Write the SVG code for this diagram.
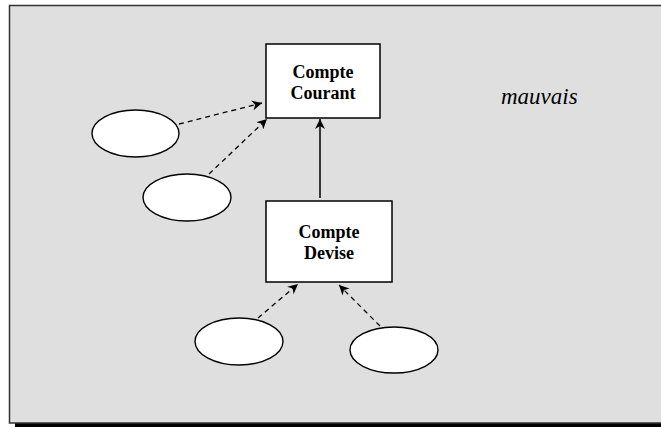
<svg xmlns="http://www.w3.org/2000/svg" width="661" height="427" viewBox="0 0 661 427">
  <style>
    .box { fill: #ffffff; stroke: #000000; stroke-width: 1.5; }
    .oval { fill: #ffffff; stroke: #000000; stroke-width: 1.4; }
    .lbl { font-family: "Liberation Serif", "Times New Roman", serif; font-weight: bold; font-size: 18px; text-anchor: middle; fill: #000; }
    .note { font-family: "Liberation Serif", "Times New Roman", serif; font-style: italic; font-size: 23px; fill: #000; }
    .dep { stroke: #000; stroke-width: 1.3; stroke-dasharray: 5 4; fill: none; }
    .gen { stroke: #000; stroke-width: 1.5; fill: none; }
  </style>
  <defs>
    <marker id="head" viewBox="0 0 10 10" refX="10" refY="5" markerWidth="10" markerHeight="10" markerUnits="userSpaceOnUse" orient="auto">
      <path d="M0,0 L10,5 L0,10 L3,5 Z" fill="#000"/>
    </marker>
  </defs>

  <!-- page frame with drop shadow -->
  <rect x="15" y="423" width="646" height="4" fill="#000"/>
  <rect x="9.5" y="5.5" width="660" height="417.5" fill="#dfdfdf" stroke="#333" stroke-width="1.5"/>

  <g id="connectors">
    <line class="dep" x1="179" y1="124" x2="262" y2="103" marker-end="url(#head)"/>
    <line class="dep" x1="209" y1="174" x2="267" y2="119" marker-end="url(#head)"/>
    <line class="gen" x1="320" y1="198" x2="320" y2="119" marker-end="url(#head)"/>
    <line class="dep" x1="258" y1="318" x2="298" y2="284" marker-end="url(#head)"/>
    <line class="dep" x1="380" y1="326" x2="339" y2="285" marker-end="url(#head)"/>
  </g>

  <g id="compte-courant">
    <rect class="box" x="266" y="44" width="114" height="74"/>
    <text class="lbl" x="323" y="78">Compte</text>
    <text class="lbl" x="323" y="99">Courant</text>
  </g>

  <g id="compte-devise">
    <rect class="box" x="266" y="201" width="126" height="81"/>
    <text class="lbl" x="329" y="238">Compte</text>
    <text class="lbl" x="329" y="259">Devise</text>
  </g>

  <g id="oval-1"><ellipse class="oval" cx="135.5" cy="133.5" rx="43.5" ry="23.5"/></g>
  <g id="oval-2"><ellipse class="oval" cx="187" cy="197.5" rx="44" ry="23.5"/></g>
  <g id="oval-3"><ellipse class="oval" cx="239" cy="341.5" rx="44" ry="23.5"/></g>
  <g id="oval-4"><ellipse class="oval" cx="394" cy="350" rx="44" ry="23"/></g>

  <g id="note">
    <text class="note" x="501" y="104">mauvais</text>
  </g>
</svg>
